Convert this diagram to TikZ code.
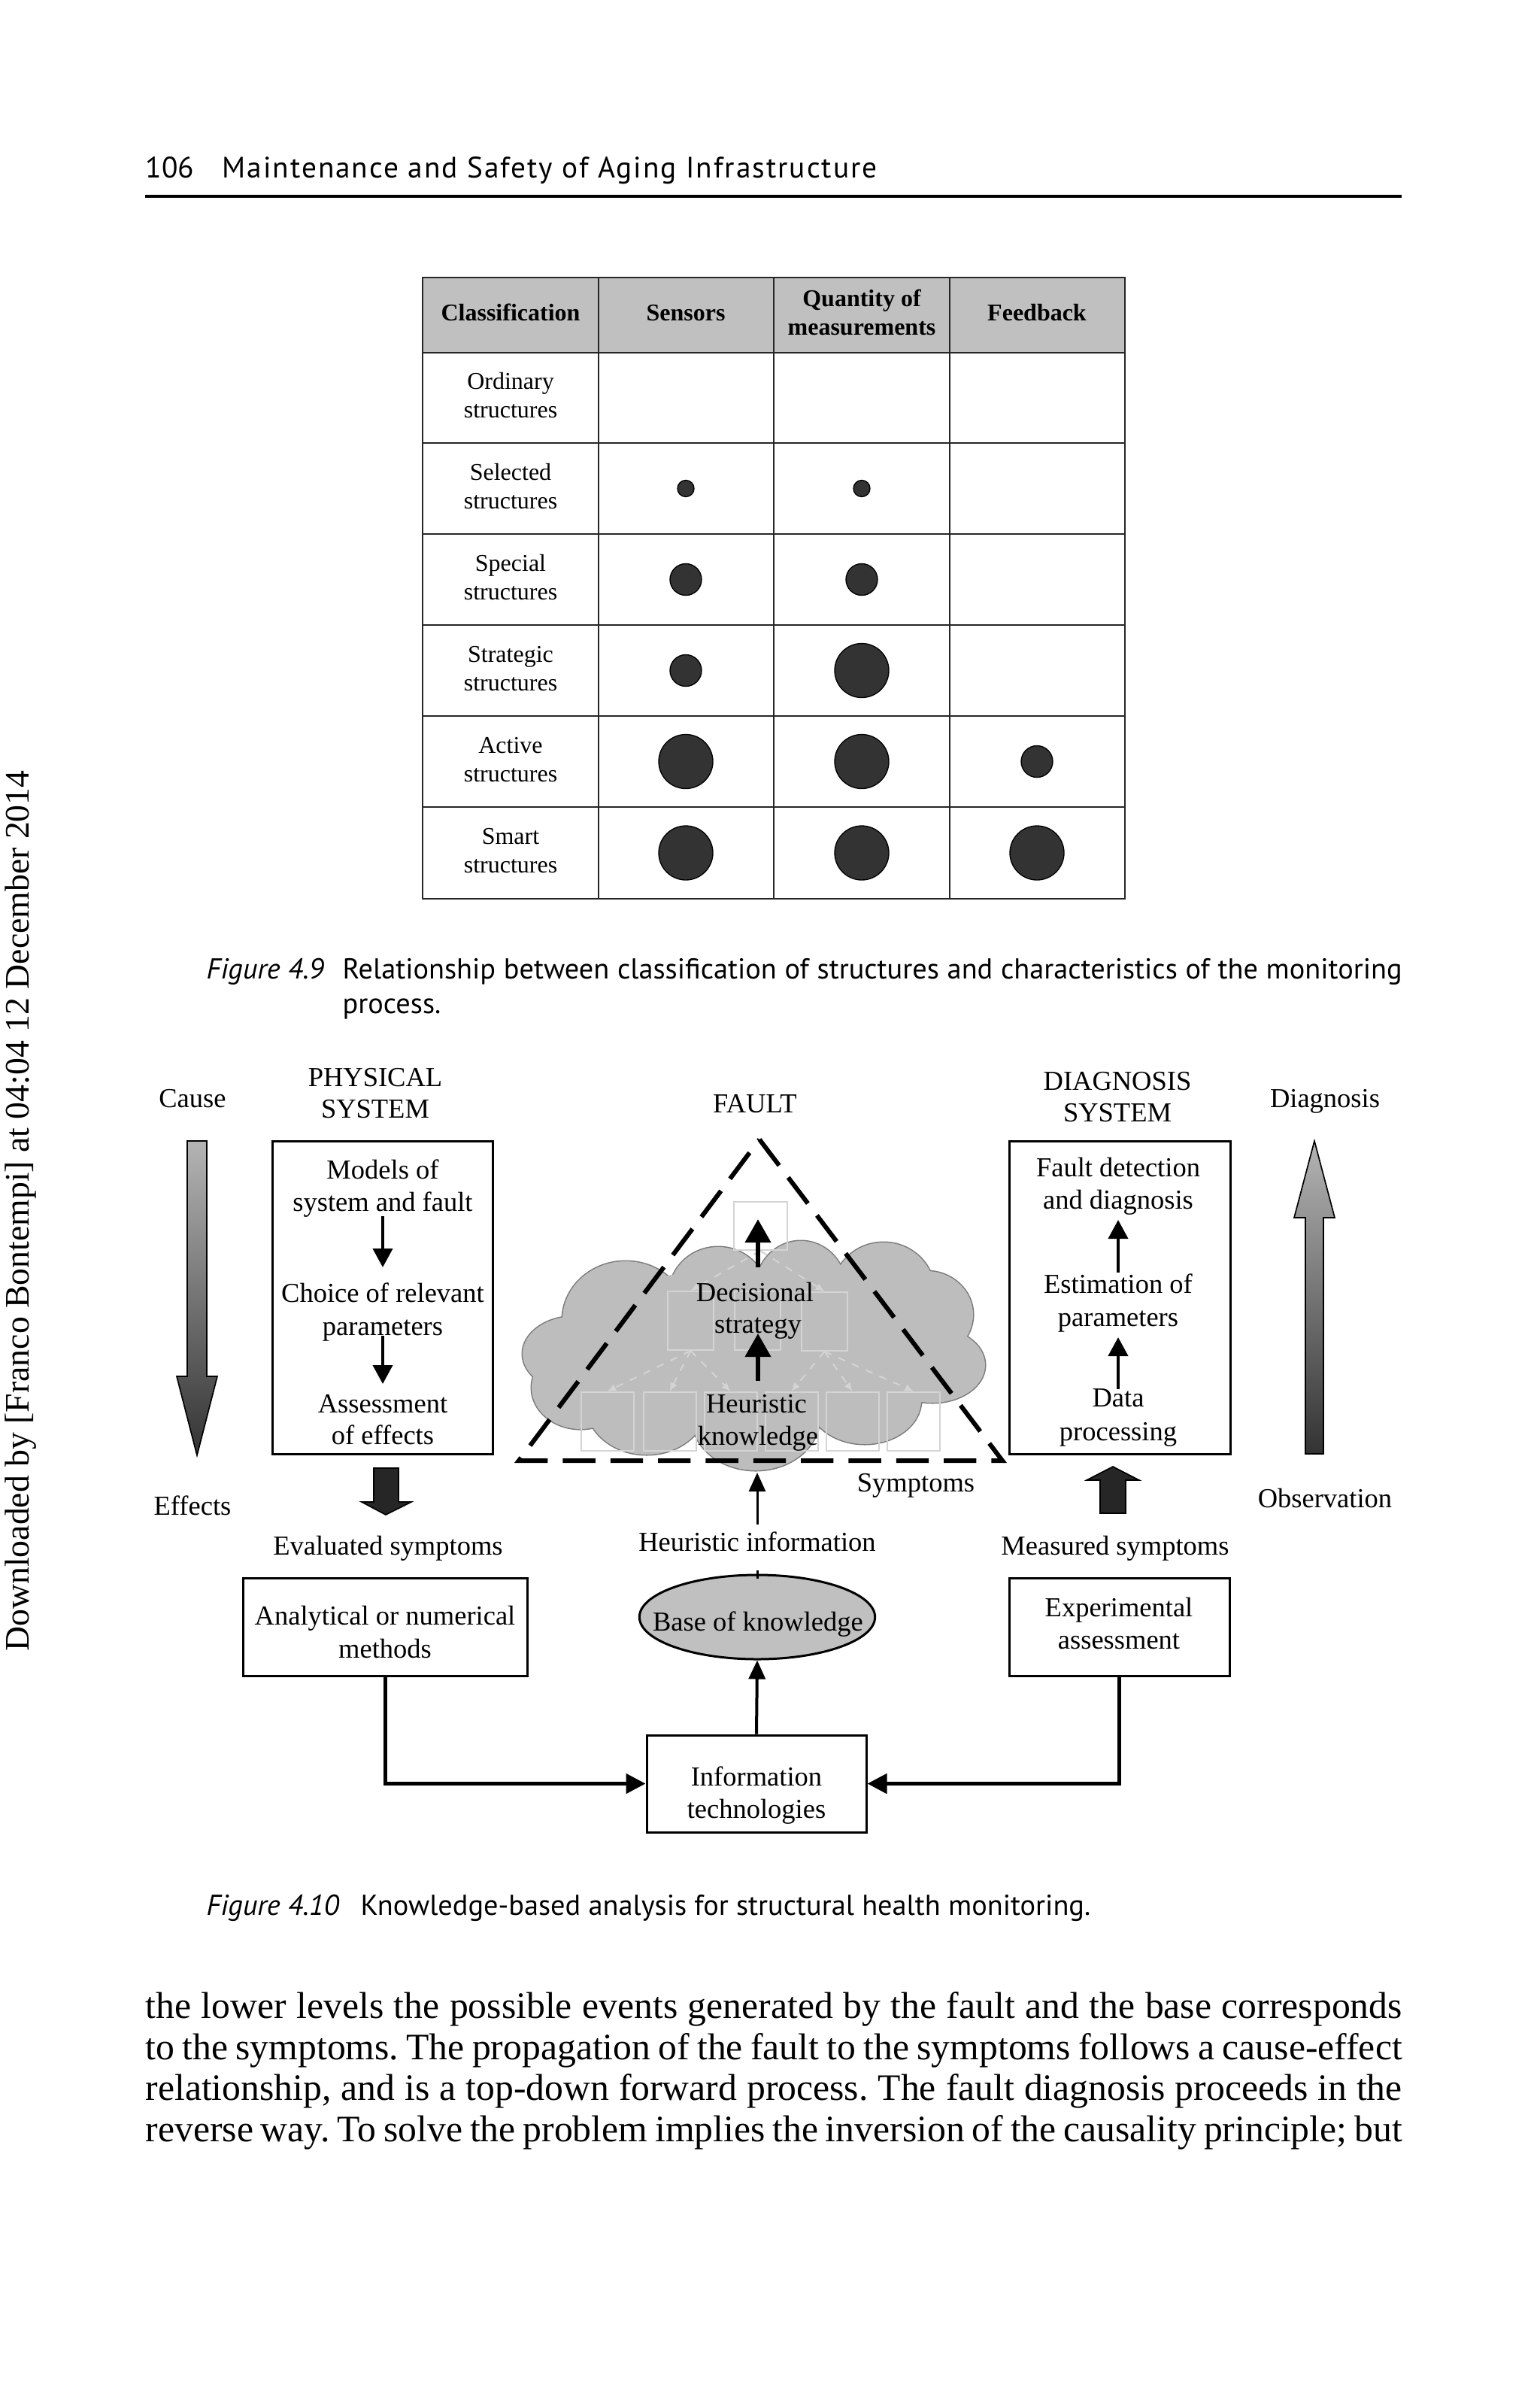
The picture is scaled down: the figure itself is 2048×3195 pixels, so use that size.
\documentclass[tikz,border=0pt]{standalone}
\usepackage{fontspec}
\setmainfont{Liberation Serif}
\newfontfamily\capfont{PT Sans}
\usepackage{graphicx}
\usetikzlibrary{arrows.meta,shapes.geometric}
\frenchspacing
\newcommand\dgf{\fontsize{10.95pt}{12.9pt}\selectfont}
\newcommand\tbf{\fontsize{9.6pt}{11.7pt}\selectfont}
\newcommand\bdf{\fontsize{14.9pt}{16.4pt}\selectfont}
\newcommand\cpf{\capfont\fontsize{11.5pt}{13.8pt}\selectfont}
\newcommand\hdf{\capfont\fontsize{11.8pt}{13pt}\selectfont}
\definecolor{hdr}{HTML}{C0C0C0}
\definecolor{dotc}{HTML}{333333}
\definecolor{cloudc}{HTML}{BDBDBD}
\definecolor{cloudl}{HTML}{7A7A7A}
\definecolor{faint}{HTML}{D4D4D4}
\definecolor{blk}{HTML}{262626}
\definecolor{gtop}{HTML}{B4B4B4}
\definecolor{gbot}{HTML}{333333}
\begin{document}
\begin{tikzpicture}[x=0.3pt,y=-0.3pt,
  dg/.style={font=\dgf, inner sep=0pt, text height=7.6pt, text depth=2.3pt},
  tb/.style={font=\tbf, inner sep=0pt, text height=6.7pt, text depth=2pt},
  tbb/.style={tb, font=\tbf\bfseries},
  tline/.style={draw=black!85, line width=0.6pt},
  dotS/.style={circle, fill=dotc, draw=black, line width=0.4pt, inner sep=0pt, minimum size=6.6pt},
  dotM/.style={dotS, minimum size=12.6pt},
  dotL/.style={dotS, minimum size=21.6pt},
  box/.style={draw, line width=0.9pt, inner sep=0pt, rectangle},
  sarrow/.style={line width=1.2pt, -{Triangle[length=7.5pt,width=7.8pt]}},
  barrow/.style={line width=1.8pt, -{Triangle[length=9.3pt,width=10pt]}},
  conn/.style={line width=1.5pt, -{Triangle[length=7.8pt,width=7.8pt]}},
  fbox/.style={draw=faint, line width=0.6pt, inner sep=0pt, rectangle, minimum width=21pt, minimum height=23.4pt},
  fdash/.style={draw=faint, line width=0.6pt, dashed, -{Latex[length=3.5pt,width=3pt]}},
  body/.style={anchor=base west, inner sep=0pt, font=\bdf},
  captxt/.style={anchor=base west, inner sep=0pt, font=\cpf}]
\useasboundingbox (0,0) rectangle (2048,3195);
\fill[white] (0,0) rectangle (2048,3195);

% ---------- running head ----------
\node[anchor=base west, inner sep=0pt, font=\hdf] (hnum) at (193,236) {106};
\node[anchor=base west, inner sep=0pt, font=\hdf\addfontfeature{LetterSpace=5}] (htitle) at (295,236) {Maintenance and Safety of Aging Infrastructure};
\draw[line width=1.1pt] (193,261) -- (1864,261);

% ---------- watermark ----------
\node[rotate=90, inner sep=0pt] (wm) at (28,1610) {\resizebox{351.3pt}{!}{Downloaded by [Franco Bontempi] at 04:04 12 December 2014}};

% ---------- table (Figure 4.9) ----------
\fill[hdr] (562,369) rectangle (1496,469);
\draw[tline] (562,369) rectangle (1496,1195);
\foreach \yy in {469,589,710,831,952,1073} \draw[tline] (562,\yy) -- (1496,\yy);
\foreach \xx in {796,1029,1263} \draw[tline] (\xx,369) -- (\xx,1195);
\node[tbb] (th1) at (679,419) {Classification};
\node[tbb] (th2) at (912,419) {Sensors};
\node[tbb] (th3a) at (1146,400) {Quantity of};
\node[tbb] (th3b) at (1146,438) {measurements};
\node[tbb] (th4) at (1379,419) {Feedback};
\foreach \i/\w/\yc in {1/Ordinary/529,2/Selected/649.5,3/Special/770.5,4/Strategic/891.5,5/Active/1012.5,6/Smart/1134}{
  \node[tb] (ra\i) at (679,\yc-19) {\w};
  \node[tb] (rb\i) at (679,\yc+19) {structures};
}
\node[dotS] (d21) at (912,649.5) {};
\node[dotS] (d22) at (1146,649.5) {};
\node[dotM] (d31) at (912,770.5) {};
\node[dotM] (d32) at (1146,770.5) {};
\node[dotM] (d41) at (912,891.5) {};
\node[dotL] (d42) at (1146,891.5) {};
\node[dotL] (d51) at (912,1012.5) {};
\node[dotL] (d52) at (1146,1012.5) {};
\node[dotM] (d53) at (1379,1012.5) {};
\node[dotL] (d61) at (912,1134) {};
\node[dotL] (d62) at (1146,1134) {};
\node[dotL] (d63) at (1379,1134) {};

% ---------- caption 4.9 ----------
\node[captxt] (c9a) at (274,1301) {\itshape Figure 4.9};
\node[captxt] (c9b) at (455,1301) {\makebox[422.7pt][s]{Relationship between classification of structures and characteristics of the monitoring}};
\node[captxt] (c9c) at (455,1347) {process.};

% ---------- Figure 4.10 ----------
% cloud
\foreach \cx/\cy/\rx/\ry in {832/1755/84/78, 955/1720/65/62, 1065/1712/60/62, 1175/1718/68/66, 1232/1748/62/58, 1240/1815/70/50, 1150/1862/75/58, 1005/1885/85/70, 860/1868/80/66, 772/1845/65/55, 765/1800/70/50}
  \draw[cloudl, line width=0.9pt] (\cx,\cy) ellipse [x radius=\rx, y radius=\ry];
\foreach \cx/\cy/\rx/\ry in {832/1755/84/78, 955/1720/65/62, 1065/1712/60/62, 1175/1718/68/66, 1232/1748/62/58, 1240/1815/70/50, 1150/1862/75/58, 1005/1885/85/70, 860/1868/80/66, 772/1845/65/55, 765/1800/70/50, 1000/1790/250/105}
  \fill[cloudc] (\cx,\cy) ellipse [x radius=\rx, y radius=\ry];

% faint hierarchy inside cloud
\node[fbox, minimum width=21.3pt, minimum height=19.2pt] (ft) at (1011,1630) {};
\node[fbox, minimum width=18.3pt] (fm1) at (918.5,1756) {};
\node[fbox, minimum width=18.3pt] (fm2) at (1007.5,1756) {};
\node[fbox, minimum width=18.3pt] (fm3) at (1096.5,1757) {};
\foreach \i/\xx in {1/807.5,2/890.5,3/971.5,4/1052.5,5/1133.5,6/1215}
  \node[fbox] (fb\i) at (\xx,1890) {};
\draw[fdash] (ft.south) -- (fm1.north);
\draw[fdash] (ft.south) -- (fm3.north);
\foreach \i in {1,2,3} \draw[fdash] (fm1.south) -- (fb\i.north);
\foreach \i in {4,5,6} \draw[fdash] (fm3.south) -- (fb\i.north);

% dashed triangle
\coordinate (apex) at (1010,1515);
\coordinate (bl) at (690,1942);
\coordinate (br) at (1333,1942);
\draw[line width=1.8pt, dash pattern=on 13pt off 6pt, line join=miter] (apex) -- (br) -- (bl) -- cycle;

% cloud texts and arrows
\node[dg] (dec1) at (1004,1722) {Decisional};
\node[dg] (dec2) at (1008,1764) {strategy};
\node[dg] (heu1) at (1006,1870) {Heuristic};
\node[dg] (heu2) at (1008,1913) {knowledge};
\coordinate (ca1s) at (1008,1685);
\coordinate (ca1e) at (1008,1621);
\coordinate (ca2s) at (1008,1836);
\coordinate (ca2e) at (1008,1773);
\draw[barrow] (ca1s) -- (ca1e);
\draw[barrow] (ca2s) -- (ca2e);

% headings
\node[dg] (cause) at (256,1464) {Cause};
\node[dg] (effects) at (256,2006) {Effects};
\node[dg] (phys1) at (499,1436) {PHYSICAL};
\node[dg] (phys2) at (499,1478) {SYSTEM};
\node[dg] (fault) at (1004,1471) {FAULT};
\node[dg] (diag1) at (1486,1441) {DIAGNOSIS};
\node[dg] (diag2) at (1486,1483) {SYSTEM};
\node[dg] (diagn) at (1762,1464) {Diagnosis};
\node[dg] (obs) at (1762,1996) {Observation};
\node[dg] (sympt) at (1218,1975) {Symptoms};

% gradient arrows
\shadedraw[top color=gtop, bottom color=gbot, draw=black, line width=0.5pt]
  (249,1517) -- (275,1517) -- (275,1830) -- (289,1830) -- (262,1935) -- (235,1830) -- (249,1830) -- cycle;
\shadedraw[top color=gtop, bottom color=gbot, draw=black, line width=0.5pt]
  (1736,1933) -- (1760,1933) -- (1760,1619) -- (1775,1619) -- (1748,1517) -- (1721,1619) -- (1736,1619) -- cycle;

% physical system box
\node[box, minimum width=87.9pt, minimum height=124.8pt] (phys) at (508.5,1725) {};
\node[dg] (p1a) at (509,1559) {Models of};
\node[dg] (p1b) at (509,1602) {system and fault};
\node[dg] (p2a) at (509,1723) {Choice of relevant};
\node[dg] (p2b) at (509,1767) {parameters};
\node[dg] (p3a) at (509,1870) {Assessment};
\node[dg] (p3b) at (509,1912) {of effects};
\coordinate (pa1s) at (509,1617);
\coordinate (pa1e) at (509,1685);
\coordinate (pa2s) at (509,1776);
\coordinate (pa2e) at (509,1840);
\draw[sarrow] (pa1s) -- (pa1e);
\draw[sarrow] (pa2s) -- (pa2e);

% diagnosis system box
\node[box, minimum width=88.2pt, minimum height=124.8pt] (diag) at (1489,1725) {};
\node[dg] (q1a) at (1487,1556) {Fault detection};
\node[dg] (q1b) at (1487,1599) {and diagnosis};
\node[dg] (q2a) at (1487,1711) {Estimation of};
\node[dg] (q2b) at (1487,1755) {parameters};
\node[dg] (q3a) at (1487,1862) {Data};
\node[dg] (q3b) at (1487,1907) {processing};
\coordinate (qa1s) at (1487,1692);
\coordinate (qa1e) at (1487,1622);
\coordinate (qa2s) at (1487,1847);
\coordinate (qa2e) at (1487,1778);
\draw[sarrow] (qa1s) -- (qa1e);
\draw[sarrow] (qa2s) -- (qa2e);

% block arrows
\filldraw[fill=blk, draw=black, line width=0.5pt]
  (497,1952) -- (530,1952) -- (530,1997) -- (547,1997) -- (513,2014) -- (481,1997) -- (497,1997) -- cycle;
\filldraw[fill=blk, draw=black, line width=0.5pt]
  (1463,2012) -- (1497,2012) -- (1497,1968) -- (1515,1968) -- (1480,1950) -- (1445,1968) -- (1463,1968) -- cycle;

% lower labels
\node[dg] (evs) at (516,2059) {Evaluated symptoms};
\node[dg] (hinfo) at (1007,2054) {Heuristic information};
\node[dg] (mes) at (1483,2059) {Measured symptoms};
\coordinate (tribase) at (1007,1958);
\draw[line width=0.9pt, -{Triangle[length=7.5pt,width=6.6pt]}] ([yshift=3pt]hinfo.north) -- (tribase);

% lower boxes
\node[box, minimum width=113.4pt, minimum height=39pt] (anal) at (512,2163) {};
\node[dg] (an1) at (512,2152) {Analytical or numerical};
\node[dg] (an2) at (512,2196) {methods};
\node[box, minimum width=87.9pt, minimum height=39pt] (expa) at (1488.5,2163) {};
\node[dg] (ex1) at (1488,2141) {Experimental};
\node[dg] (ex2) at (1488,2184) {assessment};
\node[draw, line width=0.9pt, fill=hdr, ellipse, inner sep=0pt, minimum width=94pt, minimum height=33.6pt] (kb) at (1007,2150) {};
\node[dg] (kbt) at (1008,2160) {Base of knowledge};
\node[box, minimum width=87.6pt, minimum height=38.7pt] (info) at (1006,2371.5) {};
\node[dg] (in1) at (1006,2366) {Information};
\node[dg] (in2) at (1006,2409) {technologies};
\draw[line width=0.9pt] ([yshift=-5pt]hinfo.south) -- ([yshift=-2pt]kb.north);
\draw[line width=1.2pt, -{Triangle[length=7.5pt,width=6.6pt]}] (info.north) -- (kb.south);
\draw[conn] (anal.south) |- (info.west);
\draw[conn] (expa.south) |- (info.east);

% ---------- caption 4.10 ----------
\node[captxt] (c10a) at (274,2546) {\itshape Figure 4.10};
\node[captxt] (c10b) at (479,2546) {Knowledge-based analysis for structural health monitoring.};

% ---------- body text ----------
\node[body] (b1) at (193,2683) {\makebox[501.3pt][s]{the lower levels the possible events generated by the fault and the base corresponds}};
\node[body] (b2) at (193,2738) {\makebox[501.3pt][s]{to the symptoms. The propagation of the fault to the symptoms follows a cause-effect}};
\node[body] (b3) at (193,2792) {\makebox[501.3pt][s]{relationship, and is a top-down forward process. The fault diagnosis proceeds in the}};
\node[body] (b4) at (193,2847) {\makebox[501.3pt][s]{reverse way. To solve the problem implies the inversion of the causality principle; but}};
\end{tikzpicture}
\end{document}
